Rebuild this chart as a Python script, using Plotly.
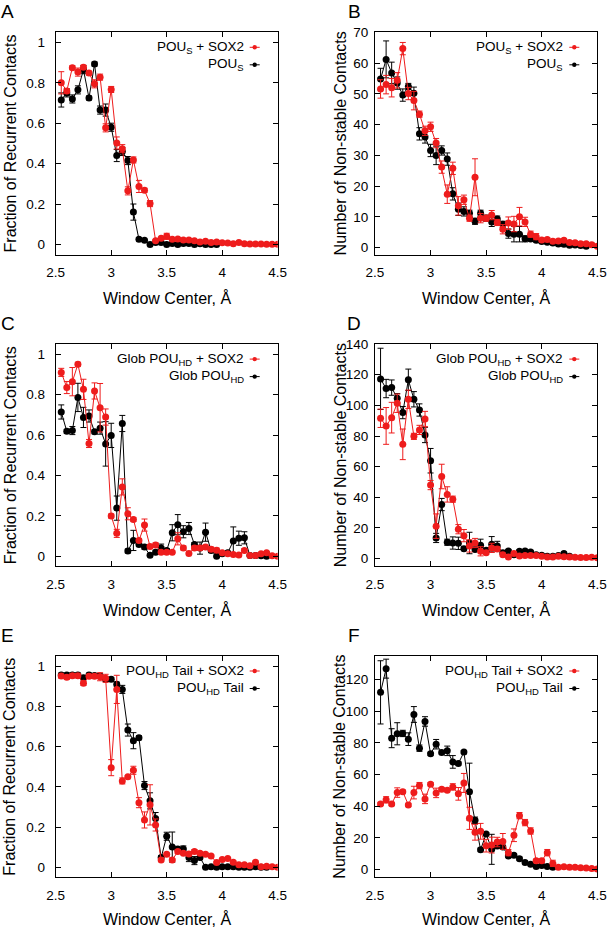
import plotly.graph_objects as go

# ---------------- data ----------------
X = [2.55, 2.6, 2.65, 2.7, 2.75, 2.8, 2.85, 2.9, 2.95, 3.0,
     3.05, 3.1, 3.15, 3.2, 3.25, 3.3, 3.35, 3.4, 3.45, 3.5,
     3.55, 3.6, 3.65, 3.7, 3.75, 3.8, 3.85, 3.9, 3.95, 4.0,
     4.05, 4.1, 4.15, 4.2, 4.25, 4.3, 4.35, 4.4, 4.45, 4.5]
X_TICKS = [2.5, 3, 3.5, 4, 4.5]

# Panel A: fraction of recurrent contacts, POU_S
A_red = [0.80, 0.76, 0.875, 0.853, 0.877, 0.848, 0.795, 0.828, 0.577, 0.767,
         0.502, 0.474, 0.265, 0.418, 0.287, 0.268, 0.202, 0.018, 0.03, 0.04,
         0.025, 0.027, 0.022, 0.022, 0.018, 0.012, 0.016, 0.01, 0.012, 0.008,
         0.007, 0.003, 0.009, 0.003, 0.002, 0.002, 0.002, 0.001, 0.001, 0.001]
A_red_err = [0.055, 0.01, 0.01, 0.02, 0.01, 0.01, 0.02, 0.015, 0.02, 0.015,
             0.03, 0.02, 0.02, 0.015, 0.03, 0.01, 0.015, 0.005, 0.005, 0.015,
             0.005, 0.005, 0.005, 0.005, 0.005, 0.005, 0.005, 0.005, 0.005, 0.003,
             0.003, 0.003, 0.003, 0.002, 0.002, 0.002, 0.002, 0.002, 0.002, 0.002]
A_blk = [0.715, 0.75, 0.72, 0.765, 0.865, 0.725, 0.893, 0.665, 0.665, 0.58,
         0.44, 0.46, 0.415, 0.16, 0.025, 0.02, 0.0, 0.01, 0.01, 0.0,
         0.005, 0.0, 0.005, 0.005, 0.0, 0.003, 0.0, 0.0, 0.0]
A_blk_err = [0.035, 0.02, 0.02, 0.02, 0.02, 0.01, 0.01, 0.02, 0.03, 0.02,
             0.03, 0.02, 0.02, 0.04, 0.008, 0.005, 0.005, 0.005, 0.005, 0.005,
             0.005, 0.005, 0.005, 0.005, 0.005, 0.005, 0.005, 0.005, 0.005]

# Panel B: number of non-stable contacts, POU_S
B_red = [51.6, 53.0, 52.0, 54.4, 64.7, 50.1, 47.8, 43.4, 38.0, 39.3,
         34.0, 26.2, 17.4, 25.8, 13.6, 15.6, 9.6, 22.9, 9.6, 9.6,
         10.6, 8.2, 6.0, 8.0, 7.7, 10.1, 8.4, 4.4, 3.6, 2.5,
         2.7, 2.1, 2.2, 2.4, 1.7, 1.6, 1.3, 1.3, 1.0, 0.5]
B_red_err = [3, 3, 3, 2.5, 2, 2, 3, 1, 1.5, 1.5,
             1.5, 2, 3, 2, 3, 1.5, 1, 6, 1.5, 1,
             1.5, 1, 1.5, 2, 2.5, 3, 1.5, 1, 1, 0.5,
             0.5, 0.5, 0.5, 0.5, 0.5, 0.5, 0.5, 0.5, 0.5, 0.5]
B_blk = [54.8, 61.2, 56.8, 53.5, 49.6, 52.4, 50.2, 37.0, 36.0, 31.6,
         30.0, 31.6, 28.8, 17.5, 12.5, 11.8, 11.2, 8.6, 11.2, 9.6,
         8.4, 9.3, 7.6, 4.6, 4.4, 4.4, 2.9, 2.8, 2.4, 2.0,
         1.8, 1.5, 1.2, 1.1, 0.8, 0.9, 0.7, 0.5]
B_blk_err = [3.5, 6, 3.5, 2, 2, 1, 2, 2, 2, 2,
             3, 1.5, 2, 2, 2, 1.5, 1, 1, 1, 1,
             1.5, 1, 1, 1.5, 2.5, 2.5, 1, 0.5, 0.5, 0.5,
             0.5, 0.5, 0.5, 0.5, 0.5, 0.5, 0.5, 0.5]

# Panel C: fraction of recurrent contacts, Glob POU_HD
C_red = [0.91, 0.835, 0.864, 0.95, 0.826, 0.558, 0.818, 0.735, 0.689, 0.199,
         0.113, 0.343, 0.21, 0.182, 0.078, 0.154, 0.048, 0.056, 0.02, 0.02,
         0.02, 0.086, 0.041, 0.013, 0.04, 0.041, 0.045, 0.035, 0.03, 0.017,
         0.012, 0.008, 0.006, 0.028, 0.003, 0.003, 0.012, 0.017, 0.002, 0.0]
C_red_err = [0.02, 0.03, 0.07, 0.01, 0.05, 0.02, 0.04, 0.12, 0.04, 0.01,
             0.02, 0.04, 0.03, 0.01, 0.01, 0.03, 0.01, 0.01, 0.005, 0.005,
             0.005, 0.03, 0.01, 0.005, 0.01, 0.01, 0.01, 0.01, 0.01, 0.005,
             0.005, 0.005, 0.005, 0.01, 0.003, 0.003, 0.005, 0.005, 0.002, 0.002]
C_blk = [0.714, 0.618, 0.622, 0.786, 0.687, 0.694, 0.616, 0.634, 0.556, 0.598,
         0.238, 0.657, 0.026, 0.078, 0.058, 0.045, 0.005, 0.02, 0.04, 0.028,
         0.116, 0.156, 0.121, 0.137, 0.058, 0.04, 0.119, 0.028, 0.0, 0.012,
         0.017, 0.075, 0.089, 0.091, 0.003, 0.003, 0.002, 0.0]
C_blk_err = [0.035, 0.01, 0.02, 0.07, 0.05, 0.03, 0.01, 0.03, 0.11, 0.06,
             0.06, 0.04, 0.01, 0.05, 0.01, 0.01, 0.005, 0.01, 0.02, 0.01,
             0.04, 0.05, 0.03, 0.03, 0.01, 0.03, 0.045, 0.01, 0.005, 0.005,
             0.005, 0.07, 0.035, 0.03, 0.003, 0.003, 0.002, 0.002]

# Panel D: number of non-stable contacts, Glob POU_HD
D_red = [91.6, 86.6, 92.0, 101.4, 74.6, 104.0, 79.8, 84.0, 91.1, 48.0,
         21.2, 53.6, 41.9, 38.8, 19.2, 15.0, 8.3, 10.2, 4.8, 3.9,
         7.0, 6.3, 2.6, 1.1, 3.3, 1.7, 2.0, 2.0, 2.0, 1.5,
         1.1, 1.1, 1.5, 1.3, 1.1, 0.9, 0.7, 0.7, 0.9, 0.5]
D_red_err = [6, 12, 10, 6, 10, 6, 2, 3, 5, 3,
             8, 8, 5, 2, 3, 4, 4, 3, 3, 1,
             3, 1.5, 1, 0.5, 1, 0.5, 0.5, 0.5, 0.5, 0.5,
             0.5, 0.5, 0.5, 0.5, 0.5, 0.5, 0.5, 0.5, 0.5, 0.5]
D_blk = [117.3, 111.0, 111.6, 104.7, 95.3, 116.7, 104.0, 97.0, 80.7, 63.9,
         13.5, 35.3, 10.7, 10.2, 10.0, 6.5, 10.2, 5.9, 8.7, 5.5,
         9.4, 8.3, 3.9, 5.0, 2.6, 4.8, 5.0, 4.4, 2.6, 2.2,
         1.5, 1.5, 2.0, 3.3, 1.5]
D_blk_err = [20, 6, 5, 3, 4, 7, 5, 4, 5, 8,
             3, 4, 2, 4, 4, 1, 7, 1, 4, 1,
             5, 3, 1, 1, 1, 1, 1, 1, 0.5, 0.5,
             0.5, 0.5, 0.5, 1, 0.5]

# Panel E: fraction of recurrent contacts, POU_HD tail
E_red = [0.95, 0.944, 0.952, 0.952, 0.914, 0.949, 0.949, 0.947, 0.939, 0.495,
         0.884, 0.429, 0.45, 0.482, 0.321, 0.235, 0.31, 0.21, 0.036, 0.065,
         0.036, 0.078, 0.07, 0.066, 0.078, 0.07, 0.065, 0.056, 0.023, 0.038,
         0.043, 0.025, 0.012, 0.012, 0.008, 0.025, 0.002, 0.005, 0.002, 0.0]
E_red_err = [0.01, 0.01, 0.01, 0.01, 0.01, 0.01, 0.01, 0.02, 0.02, 0.04,
             0.07, 0.015, 0.005, 0.02, 0.025, 0.04, 0.1, 0.03, 0.005, 0.005,
             0.005, 0.01, 0.005, 0.005, 0.01, 0.005, 0.005, 0.005, 0.005, 0.005,
             0.005, 0.005, 0.005, 0.005, 0.003, 0.005, 0.002, 0.002, 0.002, 0.002]
E_blk = [0.955, 0.955, 0.955, 0.955, 0.942, 0.955, 0.953, 0.95, 0.935, 0.934,
         0.91, 0.884, 0.682, 0.629, 0.644, 0.406, 0.33, 0.242, 0.048, 0.154,
         0.10, 0.091, 0.091, 0.048, 0.033, 0.048, 0.0, 0.003, 0.0, 0.002,
         0.002, 0.002, 0.0, 0.0, 0.0, 0.002, 0.0, 0.0]
E_blk_err = [0.01, 0.01, 0.01, 0.01, 0.01, 0.01, 0.01, 0.01, 0.01, 0.01,
             0.01, 0.02, 0.03, 0.04, 0.01, 0.02, 0.04, 0.03, 0.01, 0.02,
             0.075, 0.01, 0.015, 0.02, 0.02, 0.01, 0.003, 0.003, 0.003, 0.003,
             0.003, 0.003, 0.003, 0.003, 0.003, 0.003, 0.003, 0.003]

# Panel F: number of non-stable contacts, POU_HD tail
F_red = [41.4, 44.0, 41.4, 48.6, 49.2, 40.8, 48.6, 53.0, 44.6, 53.9,
         48.4, 50.7, 50.1, 52.2, 47.8, 54.7, 32.3, 23.5, 24.1, 15.0,
         15.4, 17.3, 17.7, 10.6, 21.6, 34.0, 29.6, 24.3, 5.5, 5.5,
         10.6, 3.8, 1.3, 1.7, 1.3, 1.3, 1.1, 0.9, 0.5, 0.2]
F_red_err = [1, 2, 1, 3, 1, 1, 4, 2, 3, 1,
             3, 1, 1, 2, 4, 6, 7, 5, 5, 4,
             5, 3, 5, 2, 4, 2, 2, 2, 1, 1,
             2, 2, 0.5, 0.5, 0.5, 0.5, 0.5, 0.5, 0.5, 0.5]
F_blk = [112.0, 127.0, 83.0, 85.8, 86.0, 82.4, 98.0, 76.7, 93.6, 73.1,
         79.2, 74.0, 75.0, 68.0, 67.0, 74.2, 49.2, 31.1, 12.5, 22.4,
         12.7, 14.8, 14.2, 8.5, 8.9, 6.8, 4.4, 3.2, 1.9, 2.5,
         1.9, 1.3]
F_blk_err = [20, 6, 6, 7, 2, 4, 5, 2, 3, 1,
             3, 1, 3, 4, 1, 1, 18, 2, 1, 1,
             9.5, 1, 1, 1, 1, 1, 1, 0.5, 0.5, 0.5,
             0.5, 0.5]

# ---------------- styling / layout ----------------
W, H = 608, 928
RED = "#ee1c1c"
BLK = "#000000"
FONT = "Liberation Sans, Arial, Helvetica, sans-serif"

COLS = [(55.7, 277.7), (375.0, 597.3)]        # frame left/right in px
ROWS = [(32.3, 254.5), (344.1, 566.3), (656.0, 877.3)]  # frame top/bottom in px

YT_FRAC = "Fraction of Recurrent Contacts"
YT_NUM = "Number of Non-stable Contacts"

panels = [
    dict(letter="A", r=0, c=0, red=A_red, rede=A_red_err, blk=A_blk, blke=A_blk_err,
         yr=[-0.05, 1.05], yt=[0, 0.2, 0.4, 0.6, 0.8, 1], ytitle=YT_FRAC,
         lr="POU<sub>S</sub> + SOX2", lb="POU<sub>S</sub>"),
    dict(letter="B", r=0, c=1, red=B_red, rede=B_red_err, blk=B_blk, blke=B_blk_err,
         yr=[-2.2, 70], yt=[0, 10, 20, 30, 40, 50, 60, 70], ytitle=YT_NUM,
         lr="POU<sub>S</sub> + SOX2", lb="POU<sub>S</sub>"),
    dict(letter="C", r=1, c=0, red=C_red, rede=C_red_err, blk=C_blk, blke=C_blk_err,
         yr=[-0.05, 1.05], yt=[0, 0.2, 0.4, 0.6, 0.8, 1], ytitle=YT_FRAC,
         lr="Glob POU<sub>HD</sub> + SOX2", lb="Glob POU<sub>HD</sub>"),
    dict(letter="D", r=1, c=1, red=D_red, rede=D_red_err, blk=D_blk, blke=D_blk_err,
         yr=[-5, 140], yt=[0, 20, 40, 60, 80, 100, 120, 140], ytitle=YT_NUM,
         lr="Glob POU<sub>HD</sub> + SOX2", lb="Glob POU<sub>HD</sub>"),
    dict(letter="E", r=2, c=0, red=E_red, rede=E_red_err, blk=E_blk, blke=E_blk_err,
         yr=[-0.05, 1.05], yt=[0, 0.2, 0.4, 0.6, 0.8, 1], ytitle=YT_FRAC,
         lr="POU<sub>HD</sub> Tail + SOX2", lb="POU<sub>HD</sub> Tail"),
    dict(letter="F", r=2, c=1, red=F_red, rede=F_red_err, blk=F_blk, blke=F_blk_err,
         yr=[-5, 135], yt=[0, 20, 40, 60, 80, 100, 120], ytitle=YT_NUM,
         lr="POU<sub>HD</sub> Tail + SOX2", lb="POU<sub>HD</sub> Tail"),
]


def px(xp):
    return xp / W


def py(yp):
    return 1 - yp / H


fig = go.Figure()
layout = dict(width=W, height=H, margin=dict(l=0, r=0, t=0, b=0, autoexpand=False),
              paper_bgcolor="white", plot_bgcolor="white", showlegend=False,
              hovermode=False,
              font=dict(family=FONT, color="black", size=13))
annotations = []
shapes = []

for i, p in enumerate(panels, start=1):
    xl, xr = COLS[p["c"]]
    yt, yb = ROWS[p["r"]]
    xa = "x" if i == 1 else f"x{i}"
    ya = "y" if i == 1 else f"y{i}"
    xkey = "xaxis" if i == 1 else f"xaxis{i}"
    ykey = "yaxis" if i == 1 else f"yaxis{i}"

    common = dict(showline=True, linecolor="black", linewidth=1, mirror="allticks",
                  ticks="inside", ticklen=5, tickwidth=1, tickcolor="black",
                  showgrid=False, zeroline=False, automargin=False,
                  tickfont=dict(family=FONT, size=13.5, color="black"))
    layout[xkey] = dict(common, domain=[px(xl), px(xr)], anchor=ya, range=[2.5, 4.5],
                        tickvals=X_TICKS, ticktext=["2.5", "3", "3.5", "4", "4.5"],
                        ticklabelstandoff=5)
    layout[ykey] = dict(common, domain=[py(yb), py(yt)], anchor=xa, range=p["yr"],
                        tickvals=p["yt"], ticklabelstandoff=7 if p["c"] == 0 else 3)

    nb = len(p["blk"])
    fig.add_trace(go.Scatter(
        x=X[:nb], y=p["blk"], xaxis=xa, yaxis=ya, mode="lines+markers",
        line=dict(color=BLK, width=1), marker=dict(color=BLK, size=7),
        error_y=dict(type="data", array=p["blke"], color=BLK, thickness=1, width=3)))
    fig.add_trace(go.Scatter(
        x=X, y=p["red"], xaxis=xa, yaxis=ya, mode="lines+markers",
        line=dict(color=RED, width=1), marker=dict(color=RED, size=7),
        error_y=dict(type="data", array=p["rede"], color=RED, thickness=1, width=3)))

    # panel letter
    lx = 7.5 if p["c"] == 0 else 354
    annotations.append(dict(text=p["letter"], x=px(lx), y=py(yt - 21), xref="paper", yref="paper",
                            showarrow=False, xanchor="center", yanchor="middle",
                            font=dict(family=FONT, size=19, color="black")))
    # x title
    tyc = min(yb + 43.5, 918.5)
    annotations.append(dict(text="Window Center, Å", x=px((xl + xr) / 2), y=py(tyc),
                            xref="paper", yref="paper", showarrow=False,
                            xanchor="center", yanchor="middle",
                            font=dict(family=FONT, size=16, color="black")))
    # y title
    tx = 10 if p["c"] == 0 else 340
    annotations.append(dict(text=p["ytitle"], x=px(tx), y=py((yt + yb) / 2),
                            xref="paper", yref="paper", showarrow=False, textangle=-90,
                            xanchor="center", yanchor="middle",
                            font=dict(family=FONT, size=16, color="black")))
    # legend
    for row, (txt, col) in enumerate([(p["lr"], RED), (p["lb"], BLK)]):
        ly = yt + 15 + row * 17.5
        annotations.append(dict(text=txt, x=px(xr - 32), y=py(ly), xref="paper", yref="paper",
                                showarrow=False, xanchor="right", yanchor="middle",
                                font=dict(family=FONT, size=13.5, color="black")))
        kc = xr - 23
        shapes.append(dict(type="line", xref="paper", yref="paper",
                           x0=px(kc - 5), x1=px(kc + 5), y0=py(ly), y1=py(ly),
                           line=dict(color=col, width=1)))
        shapes.append(dict(type="circle", xref="paper", yref="paper",
                           x0=px(kc - 2.2), x1=px(kc + 2.2), y0=py(ly - 2.2), y1=py(ly + 2.2),
                           fillcolor=col, line=dict(color=col, width=0)))

layout["annotations"] = annotations
layout["shapes"] = shapes
fig.update_layout(**layout)
fig.write_html("out.html", config={"displayModeBar": False, "staticPlot": True},
               post_script="document.body.style.margin='0px';")
